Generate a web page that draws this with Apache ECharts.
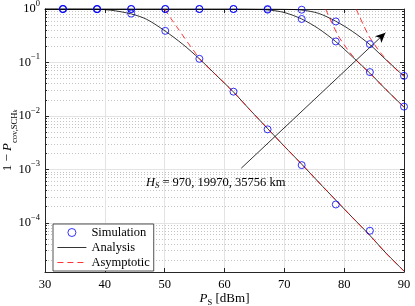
<!DOCTYPE html>
<html><head><meta charset="utf-8">
<script src="https://cdn.jsdelivr.net/npm/echarts@6/dist/echarts.min.js"></script>
<style>html,body{margin:0;padding:0;background:#fff}#c{width:415px;height:306px}</style>
</head><body><div id="c"></div>
<script>
// ---- data ----
const xTicks = [30, 40, 50, 60, 70, 80, 90];
const yMajor = [1e-4, 1e-3, 1e-2, 1e-1, 1];
const yMinorMult = [2, 3, 4, 5, 6, 7, 8, 9];
const yDecades = [1e-5, 1e-4, 1e-3, 1e-2, 1e-1];

const xSim = [33, 38.7, 44.4, 50.1, 55.8, 61.5, 67.2, 72.9, 78.6, 84.3, 90];
const sim970   = [1, 0.99, 0.82, 0.39, 0.117, 0.0284, 0.0056, 0.0012, 2.2e-4, 7.1e-5, null];
const sim19970 = [1, 1, 1, 1, 1, 1, 0.97, 0.65, 0.247, 0.066, 0.0149];
const sim35756 = [1, 1, 1, 1, 1, 1, 1, 0.97, 0.585, 0.22, 0.056];

const xAn = [30, 33, 36, 38.7, 41, 44.4, 47, 50.1, 53, 55.8, 58.6, 61.5, 64.3, 67.2, 70, 72.9, 75.7, 78.6, 81.4, 84.3, 87, 90];
const an970   = [1, 1, 0.999, 0.99, 0.95, 0.81, 0.64, 0.385, 0.22, 0.117, 0.058, 0.028, 0.0128, 0.0058, 0.0027, 0.00125, 5.8e-4, 2.65e-4, 1.25e-4, 5.8e-5, 2.7e-5, 1.25e-5];
const an19970 = [1, 1, 1, 1, 1, 1, 1, 1, 1, 1, 1, 0.999, 0.99, 0.96, 0.86, 0.65, 0.43, 0.245, 0.127, 0.063, 0.031, 0.0146];
const an35756 = [1, 1, 1, 1, 1, 1, 1, 1, 1, 1, 1, 1, 1, 0.999, 0.99, 0.955, 0.83, 0.59, 0.38, 0.215, 0.112, 0.055];

const xAs970 = [50, 51, 52, 53, 54, 55, 55.8, 58.6, 61.5, 64.3, 67.2, 70, 72.9, 75.7, 78.6, 81.4, 84.3, 87, 90];
const as970  = [1, 0.676, 0.468, 0.324, 0.224, 0.158, 0.118, 0.058, 0.028, 0.0128, 0.0058, 0.0027, 0.00125, 5.8e-4, 2.65e-4, 1.25e-4, 5.8e-5, 2.7e-5, 1.25e-5];
const xAs19970 = [76.9, 77.5, 78.2, 79, 80, 81, 82, 83, 84.3, 87, 90];
const as19970  = [1, 0.71, 0.48, 0.316, 0.214, 0.151, 0.112, 0.085, 0.063, 0.031, 0.0146];
const xAs35756 = [82.0, 82.6, 83.3, 84.1, 85.1, 86.1, 87.1, 88, 89, 90];
const as35756  = [1, 0.71, 0.48, 0.316, 0.214, 0.151, 0.112, 0.088, 0.069, 0.056];

const arrowFrom = [62.8, 1.05e-3];
const arrowTo = [86.9, 0.36];

// ---- helpers ----
const yMinor = [];
yDecades.forEach(d => yMinorMult.forEach(m => yMinor.push(+(m * d).toPrecision(3))));
const pairs = (xs, ys) => xs.map((x, i) => [x, ys[i]]);
const FONT = 'Liberation Serif';
const AX = '#262626';
const YMIN = 1.2e-5, YMAX = 1;

const yBase = (extra) => Object.assign({
  type: 'log', logBase: 10, min: YMIN, max: YMAX, gridIndex: 0
}, extra);

const chart = echarts.init(document.getElementById('c'), null, {renderer: 'canvas'});
const simStyle = {color: 'rgba(0,0,0,0)', borderColor: '#0000ff', borderWidth: 1};
const simSeries = (d) => ({name: 'Simulation', type: 'scatter', symbol: 'circle', symbolSize: 7,
  itemStyle: simStyle, data: d, z: 5, clip: false});
const anSeries = (d, extra) => Object.assign({name: 'Analysis', type: 'line', showSymbol: false, symbol: 'none',
  smooth: 0.3, lineStyle: {color: '#000', width: 0.8}, itemStyle: {color: '#000'}, data: d, z: 3}, extra || {});
const asSeries = (d) => ({name: 'Asymptotic', type: 'line', showSymbol: false, symbol: 'none',
  smooth: 0.3, lineStyle: {color: '#ff0000', width: 0.8, type: [6, 4]}, itemStyle: {color: '#ff0000'}, data: d, z: 4});

chart.setOption({
  animation: false,
  backgroundColor: '#fff',
  grid: {left: 45, top: 9, width: 359, height: 263, containLabel: false, outerBoundsMode: 'none'},
  xAxis: [
    {type: 'value', min: 30, max: 90, interval: 10, position: 'bottom',
     axisLine: {show: true, onZero: false, lineStyle: {color: AX, width: 1}},
     axisTick: {show: true, inside: true, length: 4, lineStyle: {color: AX}},
     axisLabel: {show: true, color: '#000', fontFamily: FONT, fontSize: 12.5, margin: 6},
     splitLine: {show: true, lineStyle: {color: '#e3e3e3', width: 1}},
     name: '{i|P}{s|S} {n|[dBm]}', nameLocation: 'middle', nameGap: 19, nameMoveOverlap: false,
     nameTextStyle: {rich: {
       i: {fontFamily: FONT, fontStyle: 'italic', fontSize: 13, color: '#000', lineHeight: 16},
       s: {fontFamily: FONT, fontSize: 8.5, color: '#000', verticalAlign: 'bottom', lineHeight: 10},
       n: {fontFamily: FONT, fontSize: 13, color: '#000', lineHeight: 16}}}},
    {type: 'value', min: 30, max: 90, interval: 10, position: 'top',
     axisLine: {show: true, onZero: false, lineStyle: {color: AX, width: 1}},
     axisTick: {show: true, inside: true, length: 4, lineStyle: {color: AX}},
     axisLabel: {show: false}, splitLine: {show: false}}
  ],
  yAxis: [
    yBase({position: 'left',
      axisLine: {show: true, onZero: false, lineStyle: {color: AX, width: 1}},
      axisTick: {show: true, inside: true, length: 4, lineStyle: {color: AX}, customValues: yMajor},
      axisLabel: {show: true, customValues: yMajor, margin: 5,
        formatter: function (v) {
          const e = Math.round(Math.log10(v));
          return '{b|10}{s|' + (e < 0 ? '\u2212' + (-e) : e) + '}';
        },
        rich: {
          b: {fontFamily: FONT, fontSize: 12.5, color: '#000', lineHeight: 20},
          s: {fontFamily: FONT, fontSize: 8.5, color: '#000', verticalAlign: 'top', lineHeight: 10}
        }},
      splitLine: {show: true, lineStyle: {color: '#e3e3e3', width: 1}},
      name: '{b|1 \u2212 }{i|P}{s|cov,SCH}{k|k}', nameLocation: 'middle', nameRotate: 90, nameGap: 26,
      nameMoveOverlap: false,
      nameTextStyle: {rich: {
        b: {fontFamily: FONT, fontSize: 13, color: '#000', lineHeight: 22},
        i: {fontFamily: FONT, fontStyle: 'italic', fontSize: 13, color: '#000', lineHeight: 22},
        s: {fontFamily: FONT, fontSize: 8.5, color: '#000', verticalAlign: 'bottom', lineHeight: 14},
        k: {fontFamily: FONT, fontStyle: 'italic', fontSize: 6.5, color: '#000', verticalAlign: 'bottom', lineHeight: 9}
      }}}),
    yBase({position: 'left',
      axisLine: {show: false},
      axisTick: {show: true, inside: true, length: 2, lineStyle: {color: AX}, customValues: yMinor},
      axisLabel: {show: false},
      splitLine: {show: true, lineStyle: {color: '#c4c4c4', width: 1, type: [1, 2]}}}),
    yBase({position: 'right',
      axisLine: {show: true, onZero: false, lineStyle: {color: AX, width: 1}},
      axisTick: {show: true, inside: true, length: 4, lineStyle: {color: AX}, customValues: yMajor},
      axisLabel: {show: false}, splitLine: {show: false}}),
    yBase({position: 'right',
      axisLine: {show: false},
      axisTick: {show: true, inside: true, length: 2, lineStyle: {color: AX}, customValues: yMinor},
      axisLabel: {show: false}, splitLine: {show: false}})
  ],
  legend: {
    data: [
      {name: 'Simulation', itemStyle: {borderWidth: 1, borderColor: '#0000ff', color: 'rgba(0,0,0,0)'}},
      {name: 'Analysis', itemStyle: {opacity: 0, borderWidth: 0}, lineStyle: {width: 0.8, color: '#000', opacity: 1}},
      {name: 'Asymptotic', itemStyle: {opacity: 0, borderWidth: 0}, lineStyle: {width: 0.8, color: '#ff0000', type: [6, 4], opacity: 1}}
    ],
    orient: 'vertical', left: 53, top: 224,
    backgroundColor: '#fff', borderColor: AX, borderWidth: 0.8, borderRadius: 0,
    padding: [2, 4, 2, 4], itemWidth: 29, itemHeight: 8, itemGap: 2,
    textStyle: {fontFamily: FONT, fontSize: 12.5, color: '#000'},
    selectedMode: false
  },
  graphic: [{
    type: 'text', left: 146, top: 176, z: 10,
    style: {
      text: '{i|H}{s|S}{n| = 970, 19970, 35756 km}',
      rich: {
        i: {fontFamily: FONT, fontStyle: 'italic', fontSize: 12.5, fill: '#000', lineHeight: 16},
        s: {fontFamily: FONT, fontStyle: 'italic', fontSize: 8.5, fill: '#000', verticalAlign: 'bottom', lineHeight: 10},
        n: {fontFamily: FONT, fontSize: 12.5, fill: '#000', lineHeight: 16}
      }
    }
  }],
  series: [
    anSeries(pairs(xAn, an970), {
      markLine: {silent: true, symbol: ['none', 'arrow'], symbolSize: [7, 10], animation: false,
        label: {show: false}, lineStyle: {color: '#000', width: 0.8, type: 'solid'},
        emphasis: {disabled: true},
        data: [[{coord: arrowFrom}, {coord: arrowTo}]]}
    }),
    anSeries(pairs(xAn, an19970)),
    anSeries(pairs(xAn, an35756)),
    asSeries(pairs(xAs970, as970)),
    asSeries(pairs(xAs19970, as19970)),
    asSeries(pairs(xAs35756, as35756)),
    simSeries(pairs(xSim, sim970)),
    simSeries(pairs(xSim, sim19970)),
    simSeries(pairs(xSim, sim35756))
  ]
});
</script></body></html>
